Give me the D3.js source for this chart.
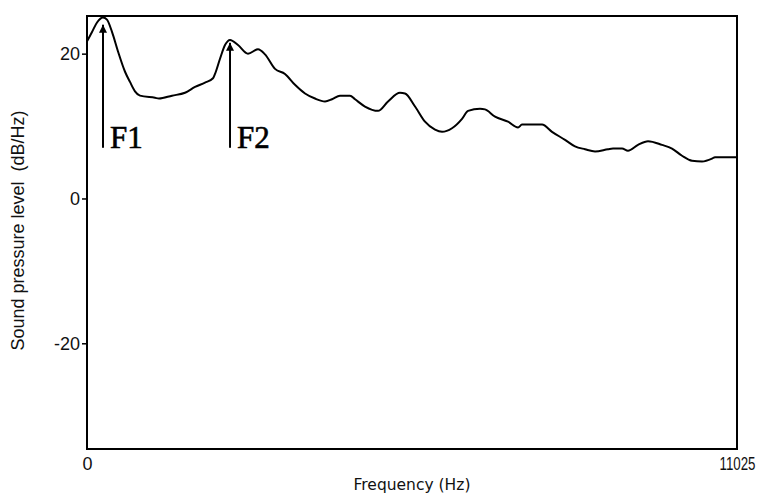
<!DOCTYPE html>
<html>
<head>
<meta charset="utf-8">
<script src="https://cdn.jsdelivr.net/npm/d3@7"></script>
<style>
  body { margin: 0; background: #fff; }
  svg { display: block; }
</style>
</head>
<body>
<div id="chart"></div>
<script>
// spectrum: frequency (Hz) and level (dB/Hz)
var freqs = [0, 85, 170, 271, 339, 424, 526, 645, 729, 814, 899, 1153, 1221, 1442, 1662, 1832,
  2001, 2137, 2171, 2256, 2341, 2426, 2561, 2731, 2900, 3019, 3189, 3358, 3528, 3698, 3867,
  4037, 4156, 4291, 4461, 4546, 4715, 4936, 5106, 5309, 5394, 5564, 5733, 5903, 6022, 6191,
  6361, 6463, 6666, 6751, 6921, 7141, 7311, 7378, 7718, 7887, 8108, 8277, 8447, 8617, 8837,
  8922, 9075, 9176, 9346, 9516, 9753, 9923, 10092, 10262, 10432, 10601, 10652, 11025];
var levels = [21.7, 23.0, 24.3, 25.0, 24.7, 23.0, 20.3, 17.5, 16.1, 14.8, 14.2, 13.9, 13.8, 14.2, 14.6, 15.4,
  16.0, 16.6, 17.2, 19.3, 21.2, 21.9, 21.2, 20.0, 20.6, 19.9, 17.9, 17.2, 15.7, 14.5, 13.8,
  13.4, 13.7, 14.2, 14.2, 13.7, 12.7, 12.1, 13.4, 14.6, 14.5, 12.7, 10.6, 9.5, 9.2, 9.7,
  11.0, 12.1, 12.4, 12.3, 11.3, 10.6, 9.8, 10.2, 10.2, 9.2, 8.1, 7.2, 6.8, 6.5, 6.8,
  6.9, 6.9, 6.6, 7.4, 7.9, 7.4, 6.9, 5.9, 5.2, 5.1, 5.5, 5.7, 5.7];

var yTicks = [-20, 0, 20];
var xTickLabels = ["0", "11025"];
var formantNames = ["F1", "F2"];
var formantFreqs = [271, 2426];
var arrowTop = [24.0, 21.5];
var arrowBottom = 7.0;

var margin = {top: 16, right: 28, bottom: 47, left: 87},
    width = 765 - margin.left - margin.right,
    height = 496 - margin.top - margin.bottom;

var x = d3.scaleLinear().domain([0, 11025]).range([0, width]);
var y = d3.scaleLinear().domain([-34.6, 25.2]).range([height, 0]);

var svg = d3.select("#chart").append("svg")
    .attr("width", 765)
    .attr("height", 496)
  .append("g")
    .attr("transform", "translate(" + margin.left + "," + margin.top + ")");

svg.append("defs").append("clipPath").attr("id", "plotClip")
  .append("rect").attr("width", width).attr("height", height);

svg.append("defs").append("marker")
    .attr("id", "head")
    .attr("viewBox", "0 0 10 10")
    .attr("refX", 10).attr("refY", 5)
    .attr("markerWidth", 11).attr("markerHeight", 8)
    .attr("markerUnits", "userSpaceOnUse")
    .attr("orient", "auto")
  .append("path")
    .attr("d", "M0,0 L10,5 L0,10 Z")
    .attr("fill", "#000");

// the curve
var data = freqs.map(function(f, i) { return {f: f, db: levels[i]}; });
var line = d3.line()
    .x(function(d) { return x(d.f); })
    .y(function(d) { return y(d.db); })
    .curve(d3.curveMonotoneX);

svg.append("path")
    .datum(data)
    .attr("clip-path", "url(#plotClip)")
    .attr("fill", "none")
    .attr("stroke", "#000")
    .attr("stroke-width", 2)
    .attr("d", line);

// frame
svg.append("rect")
    .attr("width", width).attr("height", height)
    .attr("fill", "none")
    .attr("stroke", "#000")
    .attr("stroke-width", 2);

// y axis
var yAxis = d3.axisLeft(y).tickValues(yTicks).tickSize(5).tickPadding(2)
    .tickFormat(function(d) { return d < 0 ? "-" + Math.abs(d) : d; });
var gy = svg.append("g").call(yAxis);
gy.select(".domain").remove();
gy.selectAll(".tick line").attr("stroke", "#000").attr("stroke-width", 1.5);
gy.selectAll(".tick text")
    .attr("fill", "#111")
    .style("font-family", "'Liberation Sans', Arial, sans-serif")
    .style("font-size", "18px");

// x axis labels (ends only)
var gx = svg.append("g")
    .attr("transform", "translate(0," + height + ")")
    .call(d3.axisBottom(x).tickValues([0, 11025]).tickSize(0).tickPadding(8)
      .tickFormat(function(d, i) { return xTickLabels[i]; }));
gx.select(".domain").remove();
gx.selectAll(".tick text")
    .attr("fill", "#111")
    .style("font-family", "'Liberation Sans', Arial, sans-serif")
    .style("font-size", "18px")
    .attr("transform", function(d) { return d > 0 ? "scale(0.74,1)" : null; });

// axis titles
svg.append("text")
    .attr("x", width / 2)
    .attr("y", height + 41)
    .attr("text-anchor", "middle")
    .attr("fill", "#111")
    .style("font-family", "'DejaVu Sans', sans-serif")
    .style("font-size", "15.5px")
    .text("Frequency (Hz)");

svg.append("text")
    .attr("transform", "rotate(-90)")
    .attr("x", -height / 2 + 2)
    .attr("y", -63)
    .attr("text-anchor", "middle")
    .attr("fill", "#111")
    .style("font-family", "'Liberation Sans', Arial, sans-serif")
    .style("font-size", "18px")
    .style("white-space", "pre")
    .text("Sound pressure level  (dB/Hz)");

// formant arrows
formantNames.forEach(function(name, i) {
  var fx = x(formantFreqs[i]);
  svg.append("line")
      .attr("x1", fx).attr("x2", fx)
      .attr("y1", y(arrowBottom)).attr("y2", y(arrowTop[i]))
      .attr("stroke", "#000")
      .attr("stroke-width", 2)
      .attr("marker-end", "url(#head)");
  svg.append("text")
      .attr("x", fx + 7)
      .attr("y", y(arrowBottom))
      .attr("fill", "#000")
      .attr("stroke", "#000")
      .attr("stroke-width", 0.6)
      .style("font-family", "'Liberation Serif', 'Times New Roman', serif")
      .style("font-size", "31px")
      .text(name);
});
</script>
</body>
</html>
